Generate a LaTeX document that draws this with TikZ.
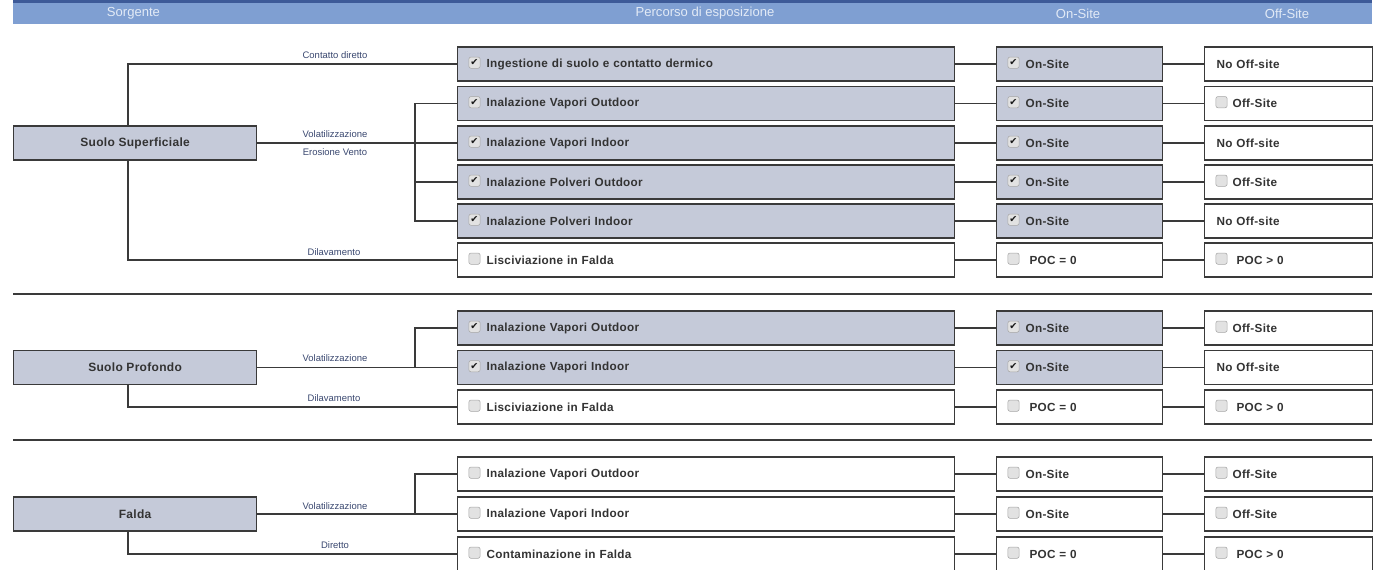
\documentclass[tikz,border=0pt]{standalone}
\usepackage{fontspec}
\setmainfont{Liberation Sans}
\newfontfamily\boxfont[LetterSpace=2.5]{Liberation Sans}
\newfontfamily\symfont{DejaVu Sans}
\definecolor{hdr}{HTML}{7F9FD2}
\definecolor{hdrdark}{HTML}{3D5A98}
\definecolor{hdrtxt}{HTML}{E2EAF6}
\definecolor{boxfill}{HTML}{C5CAD9}
\definecolor{boxline}{HTML}{3A3A3A}
\definecolor{txt}{HTML}{333333}
\definecolor{lblcol}{HTML}{3A4870}
\definecolor{chkfill}{HTML}{E2E2E2}
\definecolor{chkline}{HTML}{A6A6A6}
\newcommand\cbon[2]{\node[chk] (#1) at ([xshift=13.125pt,yshift=1pt]#2.west) {✔};}
\newcommand\cboff[2]{\node[chk] (#1) at ([xshift=13.125pt,yshift=1pt]#2.west) {};}
\begin{document}
\begin{tikzpicture}[x=0.75pt,y=-0.75pt,
 box/.style={draw=boxline, line width=0.9pt, fill=white, minimum height=25.5pt, inner ysep=0pt, anchor=west,
   font=\boxfont\bfseries\fontsize{8.8}{10}\selectfont, text=txt, align=left},
 act/.style={fill=boxfill},
 pbox/.style={box, text width=329.25pt, inner xsep=21.75pt},
 sitebox/.style={box, text width=81pt, inner xsep=21.75pt},
 offbox/.style={box, text width=84pt, inner xsep=21pt},
 nooff/.style={box, text width=108pt, inner xsep=9pt},
 srcbox/.style={draw=boxline, line width=0.9pt, fill=boxfill, minimum width=182.25pt, minimum height=25.5pt,
   anchor=west, font=\boxfont\bfseries\fontsize{9}{11}\selectfont, text=txt},
 chk/.style={draw=chkline, fill=chkfill, rounded corners=1.5pt, minimum size=8.4pt, inner sep=0pt,
   font=\symfont\fontsize{7.2}{7.2}\selectfont, text=black!90},
 lbl/.style={font=\fontsize{7.1}{8}\selectfont, text=lblcol, inner sep=0pt},
 hdrtext/.style={font=\fontsize{9.8}{11}\selectfont, text=hdrtxt, inner sep=0pt},
 conn/.style={draw=boxline, line width=0.9pt},
 sep/.style={draw=boxline, line width=1.1pt},
]
\clip (0,0) rectangle (1373,569);
\fill[white] (0,0) rectangle (1373,569);
% header
\fill[hdr] (13,3) rectangle (1372,24);
\fill[hdrdark] (13,0) rectangle (1372,3);
\node[hdrtext] (h1) at (133.5,13.5) {Sorgente};
\node[hdrtext] (h2) at (705,13.5) {Percorso di esposizione};
\node[hdrtext] (h3) at (1078,13.5) {On-Site};
\node[hdrtext] (h4) at (1287,13.5) {Off-Site};
\coordinate (xa) at (128,0);
\coordinate (xb) at (415,0);
% separators
\coordinate (s1a) at (13,294); \coordinate (s1b) at (1372,294);
\coordinate (s2a) at (13,440); \coordinate (s2b) at (1372,440);
\draw[sep] (s1a) -- (s1b);
\draw[sep] (s2a) -- (s2b);

% ---------- Section 1
\node[srcbox] (ss) at (13,143) {Suolo Superficiale};
\node[pbox,act] (p1) at (457,64) {Ingestione di suolo e contatto dermico};
\node[pbox,act] (p2) at (457,103.5) {Inalazione Vapori Outdoor};
\node[pbox,act] (p3) at (457,143) {Inalazione Vapori Indoor};
\node[pbox,act] (p4) at (457,182) {Inalazione Polveri Outdoor};
\node[pbox,act] (p5) at (457,221) {Inalazione Polveri Indoor};
\node[pbox] (p6) at (457,260) {Lisciviazione in Falda};
\node[sitebox,act] (o1) at (996,64) {On-Site};
\node[sitebox,act] (o2) at (996,103.5) {On-Site};
\node[sitebox,act] (o3) at (996,143) {On-Site};
\node[sitebox,act] (o4) at (996,182) {On-Site};
\node[sitebox,act] (o5) at (996,221) {On-Site};
\node[sitebox] (o6) at (996,260) {~POC = 0};
\node[nooff] (f1) at (1204,64) {No Off-site};
\node[offbox] (f2) at (1204,103.5) {Off-Site};
\node[nooff] (f3) at (1204,143) {No Off-site};
\node[offbox] (f4) at (1204,182) {Off-Site};
\node[nooff] (f5) at (1204,221) {No Off-site};
\node[offbox] (f6) at (1204,260) {~POC > 0};
\cbon{kp1}{p1} \cbon{kp2}{p2} \cbon{kp3}{p3} \cbon{kp4}{p4} \cbon{kp5}{p5} \cboff{kp6}{p6}
\cbon{ko1}{o1} \cbon{ko2}{o2} \cbon{ko3}{o3} \cbon{ko4}{o4} \cbon{ko5}{o5} \cboff{ko6}{o6}
\cboff{kf2}{f2} \cboff{kf4}{f4} \cboff{kf6}{f6}
\draw[conn] (ss.north -| xa) |- (p1.west);
\draw[conn] (ss.east) -- (p3.west);
\draw[conn] (p2.west) -- (p2.west -| xb) -- (p5.west -| xb) -- (p5.west);
\draw[conn] (p4.west -| xb) -- (p4.west);
\draw[conn] (ss.south -| xa) |- (p6.west);
\node[lbl] (l1) at (335,55) {Contatto diretto};
\node[lbl] (l2) at (335,134) {Volatilizzazione};
\node[lbl] (l3) at (335,152) {Erosione Vento};
\node[lbl] (l4) at (334,252) {Dilavamento};

% ---------- Section 2
\node[srcbox] (sp) at (13,367.5) {Suolo Profondo};
\node[pbox,act] (q1) at (457,328) {Inalazione Vapori Outdoor};
\node[pbox,act] (q2) at (457,367.5) {Inalazione Vapori Indoor};
\node[pbox] (q3) at (457,407) {Lisciviazione in Falda};
\node[sitebox,act] (u1) at (996,328) {On-Site};
\node[sitebox,act] (u2) at (996,367.5) {On-Site};
\node[sitebox] (u3) at (996,407) {~POC = 0};
\node[offbox] (g1) at (1204,328) {Off-Site};
\node[nooff] (g2) at (1204,367.5) {No Off-site};
\node[offbox] (g3) at (1204,407) {~POC > 0};
\cbon{kq1}{q1} \cbon{kq2}{q2} \cboff{kq3}{q3}
\cbon{ku1}{u1} \cbon{ku2}{u2} \cboff{ku3}{u3}
\cboff{kg1}{g1} \cboff{kg3}{g3}
\draw[conn] (sp.east) -- (q2.west);
\draw[conn] (q2.west -| xb) |- (q1.west);
\draw[conn] (sp.south -| xa) |- (q3.west);
\node[lbl] (l5) at (335,358) {Volatilizzazione};
\node[lbl] (l6) at (334,398) {Dilavamento};

% ---------- Section 3
\node[srcbox] (fa) at (13,514) {Falda};
\node[pbox] (r1) at (457,474) {Inalazione Vapori Outdoor};
\node[pbox] (r2) at (457,514) {Inalazione Vapori Indoor};
\node[pbox] (r3) at (457,554) {Contaminazione in Falda};
\node[sitebox] (v1) at (996,474) {On-Site};
\node[sitebox] (v2) at (996,514) {On-Site};
\node[sitebox] (v3) at (996,554) {~POC = 0};
\node[offbox] (e1) at (1204,474) {Off-Site};
\node[offbox] (e2) at (1204,514) {Off-Site};
\node[offbox] (e3) at (1204,554) {~POC > 0};
\cboff{kr1}{r1} \cboff{kr2}{r2} \cboff{kr3}{r3}
\cboff{kv1}{v1} \cboff{kv2}{v2} \cboff{kv3}{v3}
\cboff{ke1}{e1} \cboff{ke2}{e2} \cboff{ke3}{e3}
\draw[conn] (fa.east) -- (r2.west);
\draw[conn] (r2.west -| xb) |- (r1.west);
\draw[conn] (fa.south -| xa) |- (r3.west);
\node[lbl] (l7) at (335,506) {Volatilizzazione};
\node[lbl] (l8) at (335,545) {Diretto};

% row connectors
\foreach \a/\b/\c in {p1/o1/f1,p2/o2/f2,p3/o3/f3,p4/o4/f4,p5/o5/f5,p6/o6/f6,
  q1/u1/g1,q2/u2/g2,q3/u3/g3,r1/v1/e1,r2/v2/e2,r3/v3/e3}{
  \draw[conn] (\a.east) -- (\b.west);
  \draw[conn] (\b.east) -- (\c.west);
}
\end{tikzpicture}
\end{document}
